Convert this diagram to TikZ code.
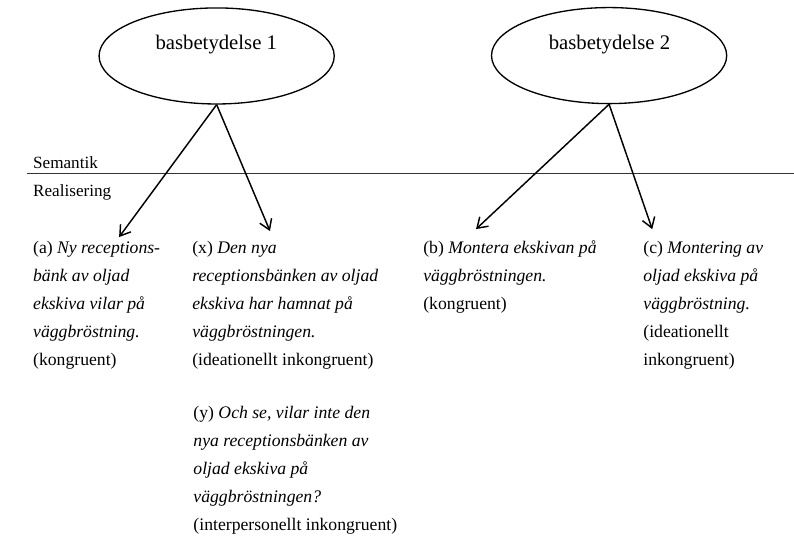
\documentclass[tikz,border=0pt]{standalone}
\usepackage{fontspec}
\setmainfont{Liberation Serif}
\usetikzlibrary{shapes.geometric,arrows.meta}

\begin{document}
\begin{tikzpicture}
	\tikzstyle{meaning} = [ draw, ellipse, line width=1pt, minimum width=6.22cm, minimum height=2.54cm, inner sep=0pt ];
	\tikzstyle{title} = [ anchor=base, inner sep=0pt, font={\fontsize{15.6}{18}\selectfont} ];
	\tikzstyle{level} = [ anchor=base west, inner sep=0pt, font={\fontsize{12.9}{16}\selectfont} ];
	\tikzstyle{example} = [ anchor=base west, inner sep=0pt, align=left, font={\fontsize{13.3}{21}\selectfont} ];
	\tikzstyle{divide} = [ line width=1pt, color=black!80 ];
	\tikzstyle{realize} = [ -{Straight Barb[length=2.6mm,width=3.4mm]}, line width=1.1pt ];

	\useasboundingbox (0,0) rectangle (21.0,-14.29);

	\node[meaning] (b1) at (5.73,-1.48) {};
	\node[meaning] (b2) at (16.11,-1.47) {};
	\node[title] (t1) at (5.72,-1.31) {basbetydelse 1};
	\node[title] (t2) at (16.12,-1.31) {basbetydelse 2};

	\coordinate (l) at (0.71,-4.58);
	\coordinate (r) at (21.0,-4.58);
	\draw[divide] (l) -- (r);

	\node[level] (sem) at (0.87,-4.45) {Semantik};
	\node[level] (real) at (0.87,-5.21) {Realisering};

	\node[example] (a) at (0.87,-9.66) {(a) \textit{Ny receptions-}\\ \textit{bänk av oljad}\\ \textit{ekskiva vilar på}\\ \textit{väggbröstning.}\\ (kongruent)};
	\node[example] (x) at (5.08,-9.66) {(x) \textit{Den nya}\\ \textit{receptionsbänken av oljad}\\ \textit{ekskiva har hamnat på}\\ \textit{väggbröstningen.}\\ (ideationellt inkongruent)};
	\node[example] (y) at (5.11,-14.02) {(y) \textit{Och se, vilar inte den}\\ \textit{nya receptionsbänken av}\\ \textit{oljad ekskiva på}\\ \textit{väggbröstningen?}\\ (interpersonellt inkongruent)};
	\node[example] (b) at (11.19,-8.18) {(b) \textit{Montera ekskivan på}\\ \textit{väggbröstningen.}\\ (kongruent)};
	\node[example] (c) at (17.01,-9.66) {(c) \textit{Montering av}\\ \textit{oljad ekskiva på}\\ \textit{väggbröstning.}\\ (ideationellt\\ inkongruent)};

	\coordinate (ta) at (3.15,-6.27);
	\coordinate (tx) at (7.14,-6.11);
	\coordinate (tb) at (12.59,-6.06);
	\coordinate (tc) at (17.25,-6.06);

	\draw[realize] (b1.south) -- (ta);
	\draw[realize] (b1.south) -- (tx);
	\draw[realize] (b2.south) -- (tb);
	\draw[realize] (b2.south) -- (tc);
\end{tikzpicture}
\end{document}
